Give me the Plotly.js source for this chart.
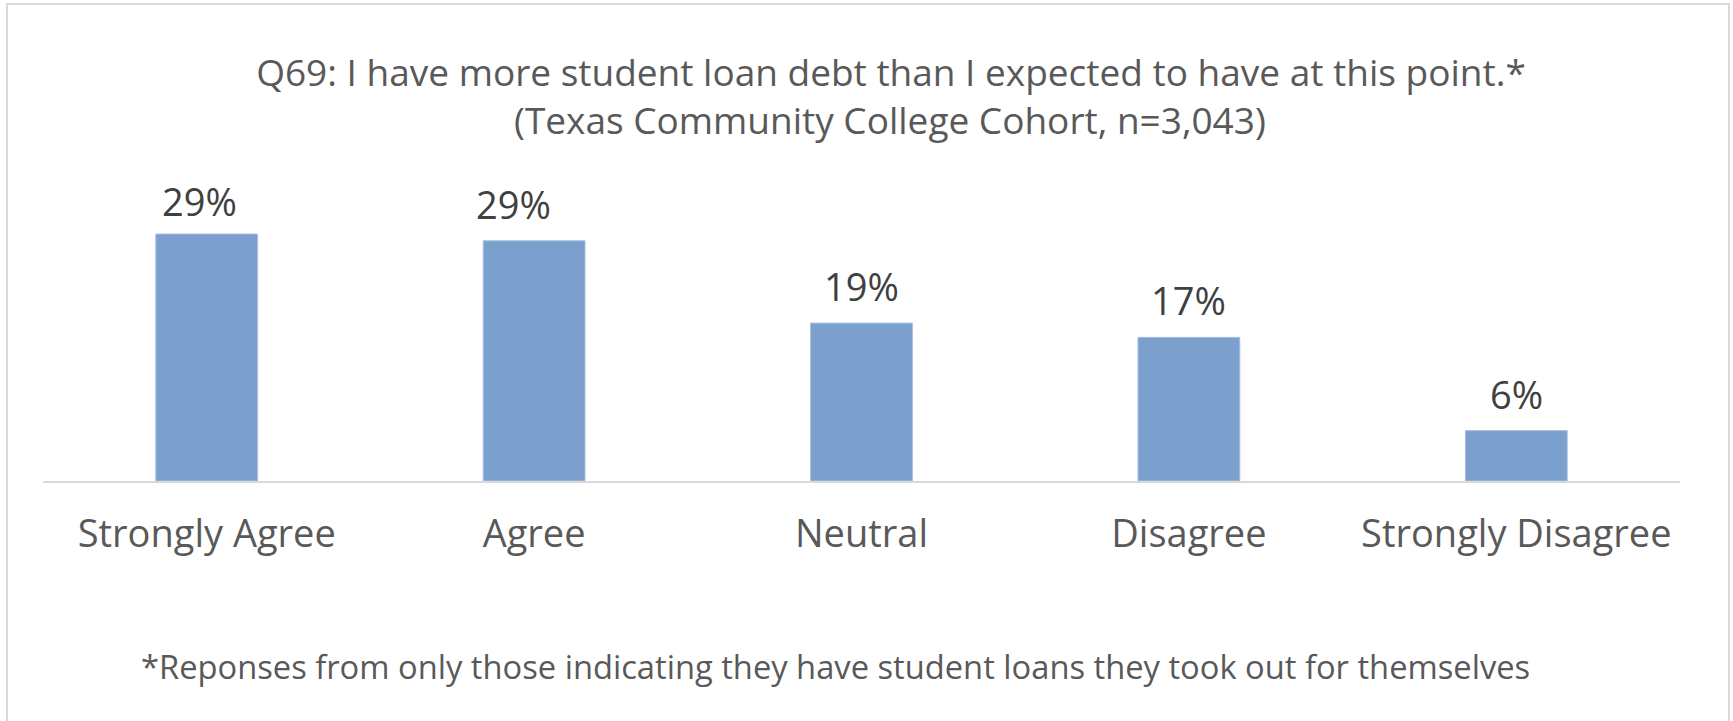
<!DOCTYPE html>
<html>
<head>
<meta charset="utf-8">
<script src="https://cdn.plot.ly/plotly-3.0.1.min.js"></script>
<style>
  html, body { margin: 0; padding: 0; background: #ffffff; overflow: hidden; }
  #wrap { position: relative; width: 1733px; height: 721px; }
  #chart { position: absolute; left: 0; top: 0; width: 1733px; height: 721px; }
  #frame {
    position: absolute; left: 6px; top: 3px; width: 1720px; height: 740px;
    border: 2px solid #d9d9d9; pointer-events: none;
  }
</style>
</head>
<body>
<div id="wrap">
  <div id="chart"></div>
  <div id="frame"></div>
</div>
<script>
// Response categories and share of respondents (percent)
const categories = ["Strongly Agree", "Agree", "Neutral", "Disagree", "Strongly Disagree"];
const shares = [29.4, 28.6, 18.8, 17.1, 6.0];

const titleLine1 = "Q69: I have more student loan debt than I expected to have at this point.*";
const titleLine2 = "(Texas Community College Cohort, n=3,043)";
const footnoteText = "*Reponses from only those indicating they have student loans they took out for themselves";

const fontFamily = "'Open Sans', 'Noto Sans', sans-serif";
const textGrey = "#595959";

// the two leftmost value labels sit nudged off their bars
const labelNudgeX = [-7, -21, 0, 0, 0];
const labelNudgeY = [5, 9, 9, 9, 9];

const trace = {
  type: "bar",
  x: categories,
  y: shares,
  marker: { color: "#7ba0cd", line: { color: "#a9c0df", width: 1 } },
  hoverinfo: "skip"
};

// value labels above each bar, text taken from the bar's own value
const valueLabels = categories.map((cat, i) => ({
  text: Math.round(shares[i]) + "%",
  x: cat,
  y: shares[i],
  xref: "x",
  yref: "y",
  xanchor: "center",
  yanchor: "bottom",
  xshift: labelNudgeX[i],
  yshift: labelNudgeY[i],
  showarrow: false,
  font: { family: fontFamily, size: 38, color: "#404040" }
}));

const layout = {
  width: 1733,
  height: 721,
  margin: { l: 43, r: 53, t: 187, b: 240, pad: 0 },
  paper_bgcolor: "#ffffff",
  plot_bgcolor: "#ffffff",
  bargap: 0.689,
  showlegend: false,
  title: {
    text: titleLine1,
    font: { family: fontFamily, size: 37, color: textGrey },
    x: 0.518,
    xref: "paper",
    xanchor: "center",
    y: 1 - 73 / 721,
    yref: "container",
    yanchor: "middle"
  },
  xaxis: {
    showline: true,
    linecolor: "#d9d9d9",
    linewidth: 2,
    ticks: "",
    showgrid: false,
    zeroline: false,
    ticklabelstandoff: 18,
    tickfont: { family: fontFamily, size: 38, color: textGrey },
    fixedrange: true
  },
  yaxis: {
    range: [0, 35],
    visible: false,
    showgrid: false,
    zeroline: false,
    fixedrange: true
  },
  annotations: valueLabels.concat([
    {
      // second title line
      text: titleLine2,
      xref: "paper",
      yref: "paper",
      x: 0.5177,
      y: (481 - 119.5) / 294,
      xanchor: "center",
      yanchor: "middle",
      showarrow: false,
      font: { family: fontFamily, size: 37, color: textGrey }
    },
    {
      text: footnoteText,
      xref: "paper",
      yref: "paper",
      x: 0.484,
      y: (481 - 666) / 294,
      xanchor: "center",
      yanchor: "middle",
      showarrow: false,
      font: { family: fontFamily, size: 32.7, color: textGrey }
    }
  ])
};

Plotly.newPlot("chart", [trace], layout, { displayModeBar: false, staticPlot: true });
</script>
</body>
</html>
